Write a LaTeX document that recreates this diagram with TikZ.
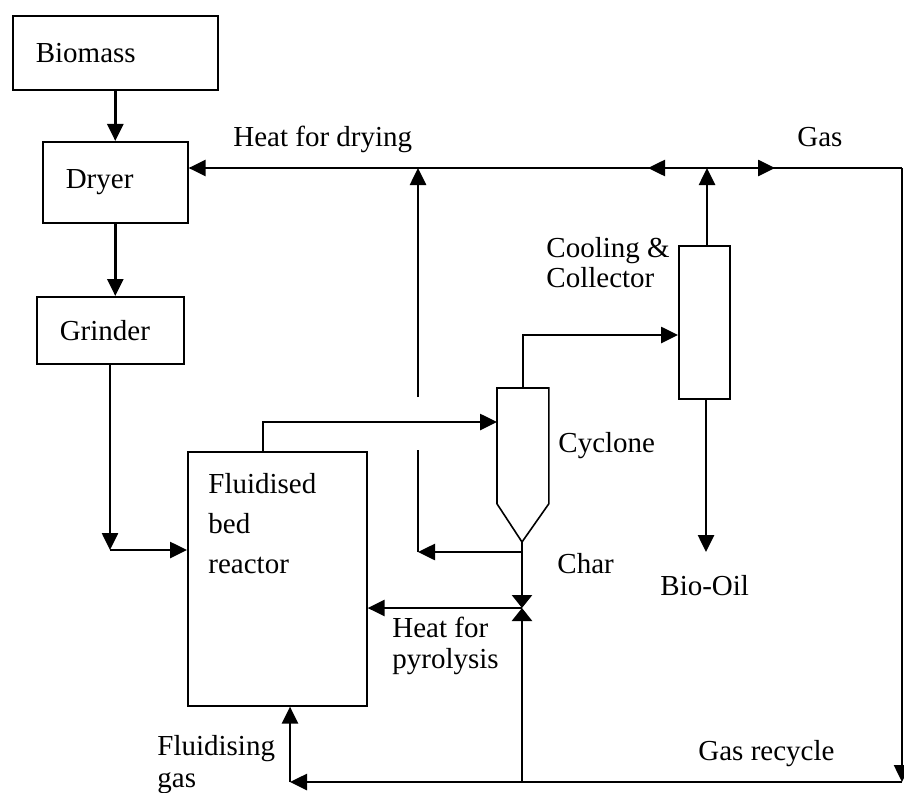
\documentclass[tikz,border=0pt]{standalone}
\usepackage{fontspec}
\setmainfont{Liberation Serif}
\usetikzlibrary{arrows.meta,positioning,calc}
\tikzset{
  box/.style={draw,line width=0.8pt,anchor=north west,inner xsep=11.5pt,inner ysep=0pt,align=left,font=\fontsize{14.5}{16}\selectfont},
  txt/.style={inner sep=0pt,anchor=base west,align=left,font=\fontsize{14.5}{15.5}\selectfont},
  ln/.style={line width=1.3pt},
  ar/.style={ln,-{Triangle[length=8.5pt,width=8pt]}},
  vl/.style={ln,-{Triangle[length=6.5pt,width=10pt]}},
}

\begin{document}
\begin{tikzpicture}[x=0.5pt,y=-0.5pt]
  \useasboundingbox (0,0) rectangle (904,792);
  % units
  \node[box,minimum width=102.5pt,minimum height=37pt,text width=79.5pt] (bio) at (12,15) {Biomass};
  \node[box,minimum width=72.5pt,minimum height=40.5pt,text width=49.5pt] (dry) at (42,141) {Dryer};
  \node[box,minimum width=73.5pt,minimum height=33.5pt,text width=50.5pt] (grd) at (36,296) {Grinder};
  \node[box,minimum width=89.5pt,minimum height=127pt] (rx) at (187,451) {};
  \node[txt,font=\fontsize{14.5}{20}\selectfont] (rxt) at (208,573) {Fluidised\\bed\\reactor};
  \node[box,inner xsep=0pt,minimum width=25.5pt,minimum height=76.5pt] (col) at (678,245) {};
  \node[anchor=north west,inner sep=0pt,minimum width=25.5pt,minimum height=57.5pt] (cyc) at (497,388) {};
  \coordinate (ctip) at (522,542);
  \draw[line width=0.8pt] (cyc.south west) -- (cyc.north west) -- (cyc.north east) -- (cyc.south east) -- (ctip) -- cycle;

  % junctions
  \coordinate (gjn) at (707,168);
  \coordinate (rc) at (902,168);
  \coordinate (bc) at (902,782);
  \coordinate (fc) at (290,782);
  \coordinate (gcn) at (110,550);
  \coordinate (rtop) at (263,422);
  \coordinate (cout) at (523,335);
  \coordinate (oil) at (706,552);
  \coordinate (cjn) at (522,552);
  \coordinate (vlv) at (522,608);
  \coordinate (bjn) at (522,782);
  \coordinate (hcor) at (418,552);
  \coordinate (hb1) at (418,450);
  \coordinate (hb2) at (418,397);

  % solids line
  \draw[ar] (bio.south) -- (dry.north);
  \draw[ar] (dry.south) -- (dry.south |- grd.north);
  \draw[ar] (gcn |- grd.south) -- (gcn);
  \draw[ar] (gcn) -- (gcn -| rx.west);
  \draw[ar] (rtop |- rx.north) |- (cyc.west |- rtop);
  \draw[ar] (cyc.north) |- (cout -| col.west);
  \draw[ar] (gjn |- col.north) -- (gjn);
  \draw[ar] (oil |- col.south) -- (oil);

  % gas lines
  \draw[ar] (gjn) -- (dry.east |- gjn);
  \draw[ar] (gjn) -- ([xshift=-29.5pt]gjn);
  \draw[ar] (gjn) -- ([xshift=34pt]gjn);
  \draw[ln] (gjn) -- (rc);
  \draw[ar] (rc) -- (bc);
  \draw[ar] (bc) -- (fc);
  \draw[ar] (fc) -- (fc |- rx.south);

  % char and heat
  \draw[ln] (ctip) -- (cjn);
  \draw[ar] (cjn) -- (hcor);
  \draw[ln] (hcor) -- (hb1);
  \draw[ar] (hb2) -- (hb2 |- gjn);
  \draw[vl] (cjn) -- (vlv);
  \draw[vl] (bjn) -- (vlv);
  \draw[ar] (vlv) -- (vlv -| rx.east);

  % labels
  \node[txt] (tdry) at (233,147) {Heat for drying};
  \node[txt] (tgas) at (797,147) {Gas};
  \node[txt,font=\fontsize{14.5}{15}\selectfont] (tcol) at (546,287) {Cooling \&\\Collector};
  \node[txt] (tcyc) at (558,452) {Cyclone};
  \node[txt] (tchr) at (557,573) {Char};
  \node[txt] (toil) at (660,595) {Bio-Oil};
  \node[txt] (tpyr) at (392,668) {Heat for\\pyrolysis};
  \node[txt,font=\fontsize{14.5}{16}\selectfont] (tflu) at (157,787) {Fluidising\\gas};
  \node[txt] (trec) at (698,760) {Gas recycle};
\end{tikzpicture}
\end{document}
